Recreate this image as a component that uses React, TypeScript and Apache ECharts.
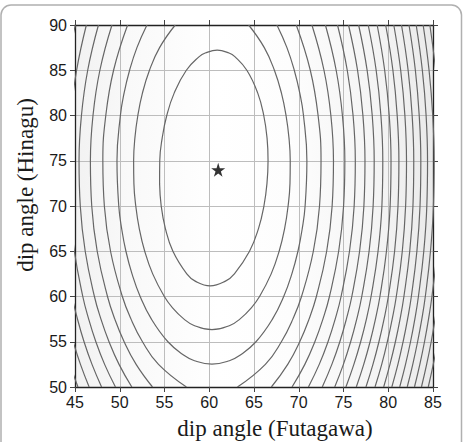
import React, { useEffect, useRef } from "react";
import * as echarts from "echarts";

// shared y positions at which the open contour branches were read
const yLevels = [50, 52.5, 55, 57.5, 60, 65, 70, 75, 80, 85, 90];

// left branches of the open contours (levels 4..10), x at each yLevels entry
const leftBranchX: number[][] = [
  [57.45, 54.33, 52.54, 51.26, 50.29, 48.97, 48.28, 48.11, 48.44, 49.31, 50.88],
  [53.66, 51.83, 50.49, 49.45, 48.63, 47.48, 46.87, 46.72, 47.01, 47.78, 49.13],
  [51.35, 49.92, 48.8, 47.9, 47.17, 46.14, 45.59, 45.45, 45.72, 46.42, 47.62],
  [49.52, 48.31, 47.33, 46.53, 45.87, 44.93, 44.41, 44.28, 44.53, 45.18, 46.27],
  [47.97, 46.9, 46.01, 45.28, 44.67, 43.8, 43.32, 43.2, 43.43, 44.03, 45.04],
  [46.58, 45.61, 44.8, 44.12, 43.56, 42.74, 42.29, 42.17, 42.39, 42.96, 43.91],
  [45.33, 44.44, 43.68, 43.04, 42.52, 41.74, 41.31, 41.21, 41.42, 41.95, 42.84],
];

// right branches of the open contours (levels 4..20)
const rightBranchX: number[][] = [
  [63.15, 66.27, 68.06, 69.34, 70.31, 71.63, 72.32, 72.49, 72.16, 71.29, 69.72],
  [66.94, 68.77, 70.11, 71.15, 71.97, 73.12, 73.73, 73.88, 73.59, 72.82, 71.47],
  [69.25, 70.68, 71.8, 72.7, 73.43, 74.46, 75.01, 75.15, 74.88, 74.18, 72.98],
  [71.08, 72.29, 73.27, 74.07, 74.73, 75.67, 76.19, 76.32, 76.07, 75.42, 74.33],
  [72.63, 73.7, 74.59, 75.32, 75.93, 76.8, 77.28, 77.4, 77.17, 76.57, 75.56],
  [74.02, 74.99, 75.8, 76.48, 77.04, 77.86, 78.31, 78.43, 78.21, 77.64, 76.69],
  [75.27, 76.16, 76.92, 77.56, 78.08, 78.86, 79.29, 79.39, 79.18, 78.65, 77.76],
  [76.43, 77.26, 77.97, 78.57, 79.07, 79.8, 80.21, 80.31, 80.11, 79.6, 78.76],
  [77.51, 78.29, 78.96, 79.53, 80.01, 80.71, 81.09, 81.19, 81.0, 80.52, 79.71],
  [78.52, 79.27, 79.9, 80.44, 80.9, 81.57, 81.94, 82.04, 81.86, 81.39, 80.62],
  [79.49, 80.19, 80.8, 81.32, 81.75, 82.4, 82.76, 82.85, 82.67, 82.22, 81.48],
  [80.4, 81.08, 81.66, 82.16, 82.58, 83.2, 83.55, 83.64, 83.46, 83.03, 82.32],
  [81.28, 81.93, 82.49, 82.97, 83.37, 83.97, 84.31, 84.39, 84.23, 83.81, 83.12],
  [82.12, 82.74, 83.28, 83.75, 84.14, 84.72, 85.05, 85.13, 84.97, 84.56, 83.9],
  [82.93, 83.53, 84.05, 84.5, 84.88, 85.45, 85.76, 85.85, 85.69, 85.29, 84.65],
  [83.71, 84.29, 84.8, 85.23, 85.6, 86.15, 86.46, 86.54, 86.39, 86.0, 85.38],
  [84.47, 85.03, 85.52, 85.95, 86.31, 86.84, 87.14, 87.2, 87.07, 86.7, 86.08],
];

// innermost closed contour (level 1)
const contour1: number[][] = [
  [54.45, 72.5], [54.63, 70], [55.1, 67.5], [55.94, 65], [57.49, 62.5], [58.43, 61.7],
  [60.1, 61.18], [61.81, 61.7], [62.81, 62.5], [64.5, 65], [65.5, 67.5], [66.11, 70],
  [66.45, 72.5], [66.57, 75], [66.46, 77.5], [66.09, 80], [65.41, 82.5], [64.2, 85],
  [62.86, 86.5], [62.21, 86.9], [60.89, 87.22], [59.55, 86.9], [58.88, 86.5], [57.44, 85],
  [56.09, 82.5], [55.25, 80], [54.74, 77.5], [54.47, 75], [54.45, 72.5],
];

// level 2 contour (open at the top)
const contour2: number[][] = [
  [56.2, 90], [54.45, 87.5], [53.32, 85], [52.54, 82.5], [52.02, 80], [51.69, 77.5],
  [51.55, 75], [51.58, 72.5], [51.79, 70], [52.18, 67.5], [52.79, 65], [53.68, 62.5],
  [54.98, 60], [55.9, 58.75], [57.18, 57.5], [58.3, 56.8], [60.3, 56.33], [62.3, 56.8],
  [63.42, 57.5], [64.7, 58.75], [65.62, 60], [66.92, 62.5], [67.81, 65], [68.42, 67.5],
  [68.81, 70], [69.02, 72.5], [69.05, 75], [68.91, 77.5], [68.58, 80], [68.06, 82.5],
  [67.28, 85], [66.15, 87.5], [64.4, 90],
];

// level 3 contour (open at the top)
const contour3: number[][] = [
  [53.04, 90], [51.92, 87.5], [51.1, 85], [50.49, 82.5], [50.07, 80], [49.69, 75],
  [49.89, 70], [50.21, 67.5], [50.69, 65], [51.37, 62.5], [52.28, 60], [53.54, 57.5],
  [55.38, 55], [57.17, 53.5], [58.35, 52.9], [60.3, 52.53], [62.25, 52.9], [63.43, 53.5],
  [65.22, 55], [67.06, 57.5], [68.32, 60], [69.23, 62.5], [69.91, 65], [70.39, 67.5],
  [70.71, 70], [70.91, 75], [70.53, 80], [70.11, 82.5], [69.5, 85], [68.68, 87.5],
  [67.56, 90],
];

// best-fit point (star)
const bestFit: number[][] = [[61, 74]];

const xMin = 45, xMax = 85, xStep = 5;
const yMin = 50, yMax = 90, yStep = 5;
const xTitle = "dip angle (Futagawa)";
const yTitle = "dip angle (Hinagu)";

const STAR =
  "path://M50,0 L61.2,34.5 L97.6,34.5 L68.2,55.9 L79.4,90.5 L50,69.1 L20.6,90.5 L31.8,55.9 L2.4,34.5 L38.8,34.5 Z";

export default function App() {
  const ref = useRef<HTMLDivElement>(null);

  useEffect(() => {
    document.body.style.margin = "0";
    if (!ref.current) return;
    const chart = echarts.init(ref.current, undefined, { renderer: "svg" });

    const contourStyle = { color: "#666666", width: 1.2 };
    const mkLine = (data: number[][]) => ({
      type: "line",
      data,
      smooth: 0.45,
      symbol: "none",
      showSymbol: false,
      silent: true,
      clip: true,
      lineStyle: contourStyle,
      z: 3,
    });

    const series: any[] = [];
    series.push(mkLine(contour1));
    series.push(mkLine(contour2));
    series.push(mkLine(contour3));
    leftBranchX.forEach((xs) => series.push(mkLine(yLevels.map((y, i) => [xs[i], y]))));
    rightBranchX.forEach((xs) => series.push(mkLine(yLevels.map((y, i) => [xs[i], y]))));
    series.push({
      type: "scatter",
      data: bestFit,
      symbol: STAR,
      symbolSize: 14,
      itemStyle: { color: "#000" },
      silent: true,
      z: 5,
    });

    const labelFont = { fontFamily: "Liberation Sans, Arial, sans-serif", fontSize: 16, color: "#1a1a1a" };
    const axisLine = { show: true, onZero: false, lineStyle: { color: "#222", width: 1.3 } };
    const tick = { show: true, inside: false, length: 5, lineStyle: { color: "#444", width: 1 } };
    const split = { show: true, lineStyle: { color: "#bdbdbd", width: 1 } };

    chart.setOption({
      animation: false,
      backgroundColor: "#ffffff",
      grid: {
        left: 75,
        right: 32,
        top: 25,
        bottom: 55,
        show: true,
        borderWidth: 0,
        outerBoundsMode: "none",
        backgroundColor: new echarts.graphic.LinearGradient(0, 0, 1, 0, [
          { offset: 0, color: "#f2f2f2" },
          { offset: 0.15, color: "#f9f9f9" },
          { offset: 0.4, color: "#ffffff" },
          { offset: 0.6, color: "#fdfdfd" },
          { offset: 0.85, color: "#f4f4f4" },
          { offset: 1, color: "#eaeaea" },
        ]),
      },
      xAxis: [
        {
          type: "value", position: "bottom", min: xMin, max: xMax, interval: xStep,
          axisLine, axisTick: tick, splitLine: split,
          axisLabel: { ...labelFont, margin: 7 },
        },
        {
          type: "value", position: "top", min: xMin, max: xMax, interval: xStep,
          axisLine, axisTick: tick, splitLine: { show: false }, axisLabel: { show: false },
        },
      ],
      yAxis: [
        {
          type: "value", position: "left", min: yMin, max: yMax, interval: yStep,
          axisLine, axisTick: tick, splitLine: split,
          axisLabel: { ...labelFont, margin: 8 },
        },
        {
          type: "value", position: "right", min: yMin, max: yMax, interval: yStep,
          axisLine, axisTick: tick, splitLine: { show: false }, axisLabel: { show: false },
        },
      ],
      graphic: [
        {
          type: "rect",
          shape: { x: 1, y: 5, width: 460.5, height: 470, r: 10 },
          style: { fill: "none", stroke: "#b0b0b0", lineWidth: 1.5 },
          silent: true,
          z: -1,
        },
        {
          type: "text",
          x: 275,
          y: 428,
          style: {
            text: xTitle,
            font: "23px 'Liberation Serif', 'Times New Roman', serif",
            fill: "#1a1a1a",
            textAlign: "center",
            textVerticalAlign: "middle",
          },
        },
        {
          type: "text",
          x: 25,
          y: 185,
          rotation: Math.PI / 2,
          style: {
            text: yTitle,
            font: "23px 'Liberation Serif', 'Times New Roman', serif",
            fill: "#1a1a1a",
            textAlign: "center",
            textVerticalAlign: "middle",
          },
        },
      ],
      series,
    });

    return () => chart.dispose();
  }, []);

  return <div ref={ref} style={{ width: 465, height: 442 }} />;
}
